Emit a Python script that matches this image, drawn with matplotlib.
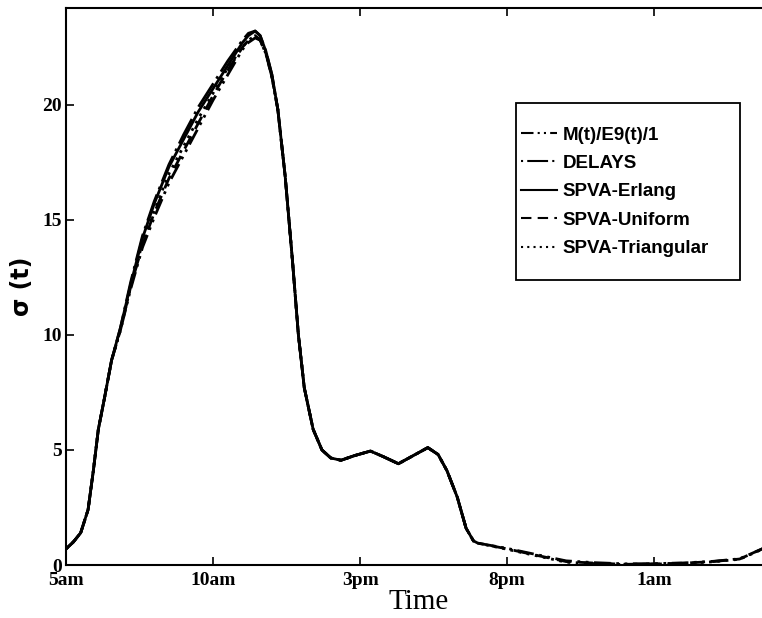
import matplotlib
matplotlib.use("Agg")
import matplotlib.pyplot as plt
from matplotlib.patches import Rectangle

# hours after 5am
hours = [0, 0.25, 0.5, 0.75, 0.93, 1.1, 1.3, 1.55, 1.85, 2.2,
         2.6, 3.0, 3.5, 4.0, 4.5, 5.0, 5.5, 6.0, 6.2, 6.43,
         6.6, 6.8, 7.0, 7.2, 7.45, 7.7, 7.9, 8.1, 8.4, 8.7,
         9.0, 9.35, 9.8, 10.35, 10.8, 11.3, 11.8, 12.3, 12.65, 12.95,
         13.3, 13.6, 13.85, 14.0, 15.0, 16.0, 17.0, 18.0, 19.0, 20.0,
         21.0, 22.0, 22.9, 23.7, 24.0]

m_e9 = [0.7, 1.0, 1.4, 2.4, 4.1, 5.9, 7.2, 8.9, 10.2, 12.0,
        13.8, 15.1, 16.6, 17.8, 19.0, 20.2, 21.3, 22.4, 22.7, 22.9,
        22.8, 22.2, 21.2, 19.8, 16.9, 13.2, 10.0, 7.7, 5.9, 5.0,
        4.65, 4.55, 4.75, 4.95, 4.7, 4.4, 4.75, 5.1, 4.8, 4.1,
        2.95, 1.6, 1.05, 0.95, 0.72, 0.45, 0.18, 0.1, 0.05, 0.06,
        0.09, 0.16, 0.27, 0.72, 0.9]

delays = [0.7, 1.0, 1.4, 2.4, 4.1, 5.9, 7.2, 8.9, 10.3, 12.3,
          14.3, 15.8, 17.4, 18.7, 19.9, 20.9, 21.9, 22.8, 23.1, 23.2,
          23.0, 22.3, 21.3, 19.8, 16.9, 13.2, 10.0, 7.7, 5.9, 5.0,
          4.65, 4.55, 4.75, 4.95, 4.7, 4.4, 4.75, 5.1, 4.8, 4.1,
          2.95, 1.6, 1.05]

erlang = [0.7, 1.0, 1.4, 2.4, 4.1, 5.9, 7.2, 8.9, 10.3, 12.2,
          14.2, 15.7, 17.3, 18.5, 19.7, 20.7, 21.7, 22.7, 23.0, 23.2,
          23.0, 22.3, 21.3, 19.8, 16.9, 13.2, 10.0, 7.7, 5.9, 5.0,
          4.65, 4.55, 4.75, 4.95, 4.7, 4.4, 4.75, 5.1, 4.8, 4.1,
          2.95, 1.6, 1.05]

uniform = [0.7, 1.0, 1.4, 2.4, 4.1, 5.9, 7.2, 8.9, 10.2, 12.1,
           13.9, 15.3, 16.8, 18.0, 19.2, 20.4, 21.5, 22.5, 22.8, 23.0,
           22.8, 22.2, 21.2, 19.8, 16.9, 13.2, 10.0, 7.7, 5.9, 5.0,
           4.65, 4.55, 4.75, 4.95, 4.7, 4.4, 4.75, 5.1, 4.8, 4.1,
           2.95, 1.6, 1.05, 0.95, 0.7, 0.42, 0.15, 0.08, 0.03, 0.05,
           0.08, 0.15, 0.26, 0.72, 0.9]

triangular = [0.7, 1.0, 1.4, 2.4, 4.1, 5.9, 7.2, 8.9, 10.2, 12.1,
              14.0, 15.4, 17.0, 18.2, 19.4, 20.5, 21.6, 22.5, 22.8, 23.0,
              22.8, 22.2, 21.2, 19.8, 16.9, 13.2, 10.0, 7.7, 5.9, 5.0,
              4.65, 4.55, 4.75, 4.95, 4.7, 4.4, 4.75, 5.1, 4.8, 4.1,
              2.95, 1.6, 1.05, 0.95, 0.68, 0.4, 0.12, 0.06, 0.02, 0.04,
              0.07, 0.14, 0.25, 0.7, 0.9]

tick_pos = [0, 5, 10, 15, 20]
tick_lab = ['5am', '10am', '3pm', '8pm', '1am']

fig = plt.figure(figsize=(7.62, 6.18), dpi=100)
ax = fig.add_axes([66/762, 53/618, 706/762, 557/618])

lw = 2.0
ax.plot(hours, m_e9, color='k', lw=lw, ls=(0, (6, 2, 1, 2, 1, 2)), label='M(t)/E9(t)/1')
ax.plot(hours[:len(delays)], delays, color='k', lw=lw, ls=(0, (1, 2, 10, 2)), label='DELAYS')
ax.plot(hours[:len(erlang)], erlang, color='k', lw=lw, ls='-', label='SPVA-Erlang')
ax.plot(hours, uniform, color='k', lw=lw, ls=(0, (5, 3)), label='SPVA-Uniform')
ax.plot(hours, triangular, color='k', lw=lw, ls=(0, (1, 2)), label='SPVA-Triangular')

ax.set_xlim(0, 24)
ax.set_ylim(0, 24.2)
ax.set_xticks(tick_pos)
ax.set_xticklabels(tick_lab)
ax.set_yticks([0, 5, 10, 15, 20])
ax.tick_params(direction='in', top=True, right=False, length=6, width=1.2)
ax.tick_params(axis='x', pad=5)
ax.tick_params(axis='y', pad=3)
for lab in ax.get_xticklabels() + ax.get_yticklabels():
    lab.set_fontfamily('Liberation Serif')
    lab.set_fontweight('bold')
    lab.set_fontsize(14)
for s in ax.spines.values():
    s.set_linewidth(1.5)

ax.set_xlabel('Time', fontfamily='Liberation Serif', fontsize=21, labelpad=0)
ax.set_ylabel('σ (t)', fontfamily='DejaVu Sans', fontweight='bold', fontsize=17, labelpad=6)

# legend frame drawn separately so the padding can differ in x and y
ax.add_patch(Rectangle((0.637, 0.512), 0.318, 0.317, transform=ax.transAxes,
                       fill=False, edgecolor='k', lw=1.3, zorder=5, clip_on=False))
leg = ax.legend(loc='center left', bbox_to_anchor=(0.637, 0.670), frameon=False,
                handlelength=1.9, handletextpad=0.3, labelspacing=0.6, borderpad=0.3,
                borderaxespad=0.0,
                prop={'family': 'Liberation Sans', 'weight': 'bold', 'size': 13.5})
for ln in leg.get_lines():
    ln.set_linewidth(1.5)

fig.savefig('out.png', dpi=100)
